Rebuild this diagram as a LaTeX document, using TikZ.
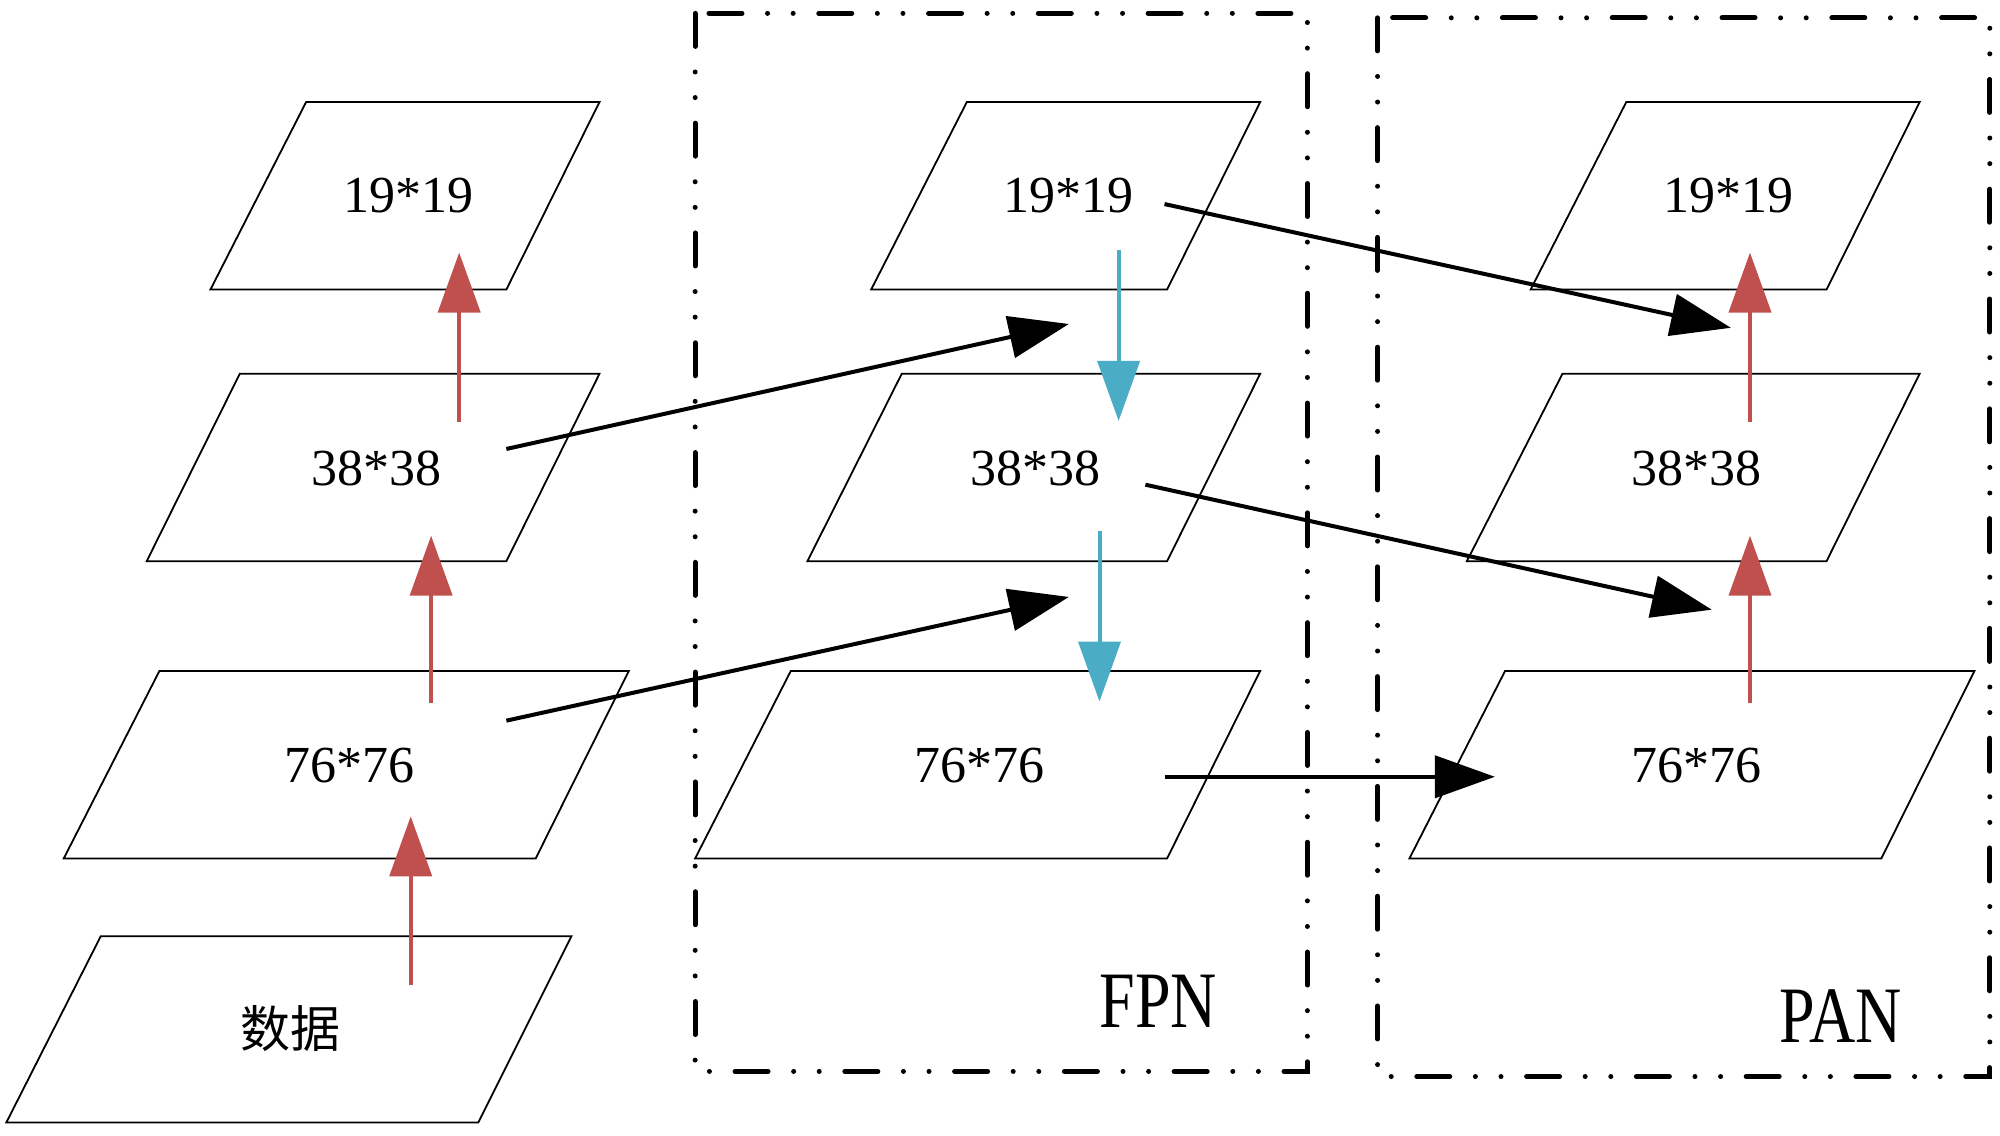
\documentclass[tikz,border=0pt]{standalone}
\usepackage{fontspec}
\usepackage{graphicx}
\setmainfont{Liberation Serif}
\newfontfamily\cjk{Noto Sans CJK SC}
\usetikzlibrary{arrows.meta}
\definecolor{redarr}{RGB}{192,80,77}
\definecolor{bluearr}{RGB}{75,172,198}
\begin{document}
\begin{tikzpicture}[x=0.6378pt,y=-0.6378pt,
  para/.style={draw=black,line width=0.9pt,line join=miter},
  lbl/.style={font=\fontsize{26}{30}\selectfont,inner sep=0pt},
  cjklbl/.style={font=\cjk\fontsize{25}{30}\selectfont,inner sep=0pt},
  biglbl/.style={font=\fontsize{40}{44}\selectfont,inner sep=0pt},
  tipped/.style={line width=2pt,-{Triangle[length=30pt,width=21pt]}},
  blackarr/.style={tipped,draw=black,fill=black},
  redup/.style={tipped,draw=redarr,fill=redarr},
  bluedown/.style={tipped,draw=bluearr,fill=bluearr},
  ddbox/.style={draw=black,line width=2.5pt,line cap=round,
    dash pattern=on 16.5pt off 12.8pt on 0pt off 12.8pt on 0pt off 12.8pt}]
\useasboundingbox (0,0) rectangle (1568,890.6);
% dash-dot group boxes
\draw[ddbox] (545,10.5) rectangle (1025,840);
\draw[ddbox] (1080,14) rectangle (1560,844);
% parallelograms: TL, TR, BR, BL
\newcommand{\para}[6]{\draw[para] (#1,#5) -- (#2,#5) -- (#4,#6) -- (#3,#6) -- cycle;}
\para{240}{470}{165}{397}{80}{227}
\para{188}{470}{115}{397}{293}{440}
\para{125}{493}{50}{420}{526}{673}
\para{79}{448}{5}{375}{734}{880}
\para{758}{988}{683}{915}{80}{227}
\para{707}{988}{633}{915}{293}{440}
\para{620}{988}{545}{915}{526}{673}
\para{1275}{1505}{1200}{1432}{80}{227}
\para{1225}{1505}{1150}{1432}{293}{440}
\para{1180}{1548}{1105}{1475}{526}{673}
% labels
\node[lbl] (l1) at (320,153) {19*19};
\node[lbl] (l2) at (295,367) {38*38};
\node[lbl] (l3) at (274,600) {76*76};
\node[cjklbl] (l4) at (228,806) {数据};
\node[lbl] (m1) at (838,153) {19*19};
\node[lbl] (m2) at (812,367) {38*38};
\node[lbl] (m3) at (768,600) {76*76};
\node[lbl] (p1) at (1355,153) {19*19};
\node[lbl] (p2) at (1330,367) {38*38};
\node[lbl] (p3) at (1330,600) {76*76};
\node[biglbl] (fpn) at (908,785) {\scalebox{0.8}[1]{FPN}};
\node[biglbl] (pan) at (1443,797) {\scalebox{0.8}[1]{PAN}};
% arrow end points
\coordinate (ra1) at (322,772); \coordinate (rb1) at (322,640);
\coordinate (ra2) at (338,551); \coordinate (rb2) at (338,420);
\coordinate (ra3) at (360,331); \coordinate (rb3) at (360,198);
\coordinate (ra4) at (1372,331); \coordinate (rb4) at (1372,198);
\coordinate (ra5) at (1372,551); \coordinate (rb5) at (1372,420);
\coordinate (ba1) at (877,196); \coordinate (bb1) at (877,330);
\coordinate (ba2) at (862,416); \coordinate (bb2) at (862,550);
\coordinate (ka1) at (397,352); \coordinate (kb1) at (838,254);
\coordinate (ka2) at (397,565); \coordinate (kb2) at (838,468);
\coordinate (ka3) at (913,160); \coordinate (kb3) at (1357,257);
\coordinate (ka4) at (898,380); \coordinate (kb4) at (1342,478);
\coordinate (ka5) at (913,609); \coordinate (kb5) at (1172,609);
% arrows
\draw[redup] (ra1) -- (rb1);
\draw[redup] (ra2) -- (rb2);
\draw[redup] (ra3) -- (rb3);
\draw[redup] (ra4) -- (rb4);
\draw[redup] (ra5) -- (rb5);
\draw[bluedown] (ba1) -- (bb1);
\draw[bluedown] (ba2) -- (bb2);
\draw[blackarr] (ka1) -- (kb1);
\draw[blackarr] (ka2) -- (kb2);
\draw[blackarr] (ka3) -- (kb3);
\draw[blackarr] (ka4) -- (kb4);
\draw[blackarr] (ka5) -- (kb5);
\end{tikzpicture}
\end{document}
